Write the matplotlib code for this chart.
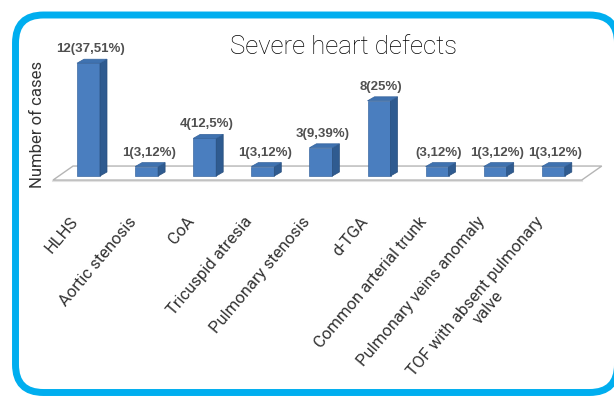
import matplotlib
matplotlib.use("Agg")
import matplotlib.pyplot as plt
from matplotlib.patches import FancyBboxPatch, Polygon

categories = ["HLHS", "Aortic stenosis", "CoA", "Tricuspid atresia",
              "Pulmonary stenosis", "d-TGA", "Common arterial trunk",
              "Pulmonary veins anomaly", "TOF with absent pulmonary\nvalve"]
cases = [12, 1, 4, 1, 3, 8, 1, 1, 1]
value_labels = ["12(37,51%)", "1(3,12%)", "4(12,5%)", "1(3,12%)", "3(9,39%)",
                "8(25%)", "(3,12%)", "1(3,12%)", "1(3,12%)"]

W, H = 614, 396
fig = plt.figure(figsize=(W / 100, H / 100), dpi=100)

# background layer in pixel units for the rounded frame
bg = fig.add_axes([0, 0, 1, 1], zorder=0)
bg.set_xlim(0, W)
bg.set_ylim(H, 0)
bg.axis("off")
frame = FancyBboxPatch((15.5, 15), 602, 377.5,
                       boxstyle="round,pad=0,rounding_size=28",
                       lw=5.0, edgecolor="#00AEEF", facecolor="white")
bg.add_patch(frame)

# pixel geometry of the plotting area
px0, step = 88.5, 58.1      # centre of first bar, spacing between bars
base, unit = 176, 9.4       # baseline pixel row, pixels per case
left_px, right_px, top_px, bot_px = 40, 610, 40, 200

ax = fig.add_axes([left_px / W, 1 - bot_px / H,
                   (right_px - left_px) / W, (bot_px - top_px) / H], zorder=1)
ax.set_xlim((left_px - px0) / step, (right_px - px0) / step)
ax.set_ylim((base - bot_px) / unit, (base - top_px) / unit)
ax.axis("off")
ax.patch.set_alpha(0)

n = len(cases)
bw = 23 / step
dx, dy = 7 / step, 4 / unit

# floor of the 3-D chart
fx0, fx1 = -0.61, n - 1 + 0.49
fy = -0.43
fdx, fdy = 20 / step, 14 / unit
floor = Polygon([(fx0, fy), (fx1, fy), (fx1 + fdx, fy + fdy), (fx0 + fdx, fy + fdy)],
                closed=True, facecolor="white", edgecolor="#b5b5b5", lw=1.0, zorder=1)
ax.add_patch(floor)
ax.plot([fx0, fx1], [fy - 0.12, fy - 0.12], color="#e2e2e2", lw=1.5, zorder=0.9)

front_c, side_c, top_c = "#4a7ebf", "#2f5b90", "#3f72b0"
xs = list(range(n))
ax.bar(xs, cases, width=bw, color=front_c, edgecolor="#3d6aa3", lw=0.5, zorder=3)
for i, v in zip(xs, cases):
    x1 = i + bw / 2
    x0 = i - bw / 2
    ax.add_patch(Polygon([(x1, 0), (x1 + dx, dy), (x1 + dx, v + dy), (x1, v)],
                         closed=True, facecolor=side_c, edgecolor="#284e7c",
                         lw=0.5, zorder=3))
    ax.add_patch(Polygon([(x0, v), (x1, v), (x1 + dx, v + dy), (x0 + dx, v + dy)],
                         closed=True, facecolor=top_c, edgecolor="#35639c",
                         lw=0.5, zorder=3))

for i, v, lab in zip(xs, cases, value_labels):
    ax.annotate(lab, (i, v), xytext=(2, 8), textcoords="offset pixels",
                ha="center", va="bottom", fontsize=9.5, fontweight="bold",
                family=["Liberation Sans", "DejaVu Sans"], color="#505050",
                zorder=4)

for i, lab in zip(xs, categories):
    ax.annotate(lab, (i, 0), xytext=(-19, -(214 - base)), textcoords="offset pixels",
                rotation=50, rotation_mode="anchor", ha="right", va="top",
                multialignment="center", fontsize=12,
                family=["Roboto", "DejaVu Sans"], color="#333333",
                annotation_clip=False)

fig.text(343 / W, 1 - 47 / H, "Severe heart defects", ha="center", va="center",
         fontsize=18.5, fontweight="light", family=["Roboto", "DejaVu Sans"],
         color="#000000")
fig.text(38 / W, 1 - 124 / H, "Number of cases", rotation=90, ha="center",
         va="center", fontsize=12, family=["Roboto", "DejaVu Sans"],
         color="#333333")

fig.savefig("out.png", dpi=100)
